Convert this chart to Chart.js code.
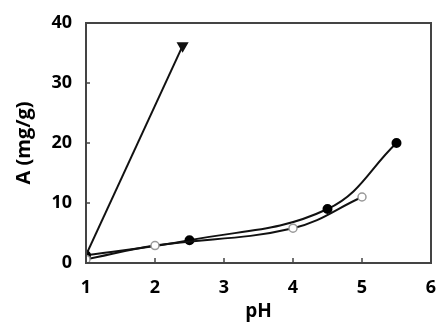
<!DOCTYPE html>
<html><head><meta charset="utf-8">
<script src="https://cdn.jsdelivr.net/npm/chart.js@4/dist/chart.umd.min.js"></script>
<style>html,body{margin:0;padding:0;background:#fff}#wrap{width:438px;height:330px}</style>
</head><body><div id="wrap"><canvas id="c" width="438" height="330"></canvas></div>
<script>
const xTickValues = [1, 2, 3, 4, 5, 6];
const yTickValues = [0, 10, 20, 30, 40];
const phTriangle = [1, 2.4];
const aTriangle = [1.3, 36.2];
const phFilled = [1, 2.5, 4.5, 5.5];
const aFilled = [1.3, 3.8, 9.0, 20.0];
const phOpen = [1, 2, 4, 5];
const aOpen = [0.6, 2.9, 5.8, 11.0];
const xTitle = 'pH';
const yTitle = 'A (mg/g)';

const pts = (xs, ys) => xs.map((x, i) => ({x, y: ys[i]}));
const FONT = "'Open Sans', 'Liberation Sans', sans-serif";

const framePlugin = {
  id: 'frame',
  afterDatasetsDraw(chart) {
    const {ctx, chartArea: a, scales} = chart;
    ctx.save();
    ctx.strokeStyle = '#444';
    ctx.lineWidth = 2;
    ctx.strokeRect(a.left, a.top, a.right - a.left, a.bottom - a.top);
    ctx.lineWidth = 1.5;
    ctx.beginPath();
    xTickValues.slice(1, -1).forEach(v => {
      const px = scales.x.getPixelForValue(v);
      ctx.moveTo(px, a.bottom); ctx.lineTo(px, a.bottom - 5);
    });
    yTickValues.slice(1, -1).forEach(v => {
      const py = scales.y.getPixelForValue(v);
      ctx.moveTo(a.left, py); ctx.lineTo(a.left + 4, py);
    });
    ctx.stroke();
    ctx.restore();
  }
};

new Chart(document.getElementById('c'), {
  type: 'scatter',
  data: {
    datasets: [
      {
        data: pts(phTriangle, aTriangle), showLine: true,
        borderColor: '#111', borderWidth: 2, backgroundColor: '#111',
        pointStyle: 'triangle', rotation: 180, pointRadius: [0, 5], tension: 0
      },
      {
        data: pts(phOpen, aOpen), showLine: true,
        borderColor: '#111', borderWidth: 2,
        pointBackgroundColor: '#fff', pointBorderColor: '#999', pointBorderWidth: 1.5,
        pointRadius: 4, tension: 0.4
      },
      {
        data: pts(phFilled, aFilled), showLine: true,
        borderColor: '#111', borderWidth: 2, backgroundColor: '#000',
        pointBackgroundColor: '#000', pointBorderColor: '#000',
        pointRadius: 4, tension: 0.4
      }
    ]
  },
  options: {
    responsive: false, animation: false,
    layout: {padding: {left: 0, right: 6, top: 23, bottom: 0}},
    plugins: {legend: {display: false}, tooltip: {enabled: false}},
    scales: {
      x: {
        type: 'linear', min: 1, max: 6,
        afterFit(s) { s.height = 67; s.paddingLeft = 0; s.paddingRight = 0; },
        border: {color: '#444', width: 2},
        grid: {display: false, drawTicks: false},
        afterBuildTicks(s) { s.ticks = xTickValues.map(v => ({value: v})); },
        ticks: {color: '#000', padding: 14, maxRotation: 0, font: {family: FONT, size: 18, weight: 'bold'}},
        title: {display: true, text: xTitle, color: '#000', padding: {top: 0, bottom: 7},
                font: {family: FONT, size: 19, weight: 'bold'}}
      },
      y: {
        min: 0, max: 40,
        afterFit(s) { s.width = 86; s.paddingTop = 0; s.paddingBottom = 0; },
        border: {color: '#444', width: 2},
        grid: {display: false, drawTicks: false},
        afterBuildTicks(s) { s.ticks = yTickValues.map(v => ({value: v})); },
        ticks: {color: '#000', padding: 14, font: {family: FONT, size: 18, weight: 'bold'}},
        title: {display: true, text: yTitle, color: '#000', padding: {top: 12, bottom: 0},
                font: {family: FONT, size: 20, weight: 'bold'}}
      }
    }
  },
  plugins: [framePlugin]
});
</script></body></html>
